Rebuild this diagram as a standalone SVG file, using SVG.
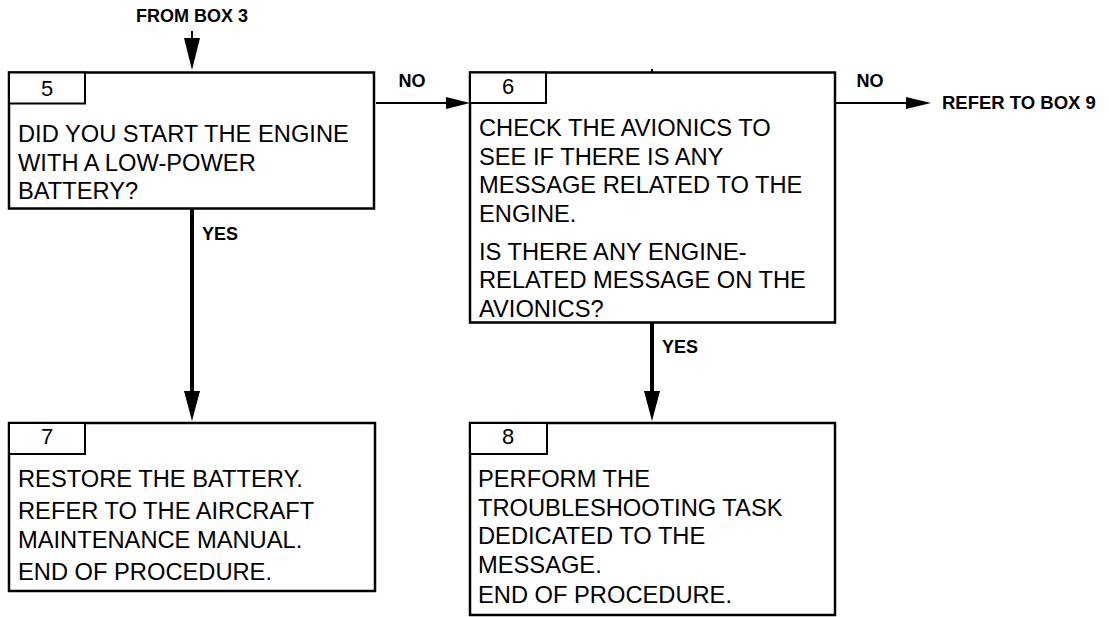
<svg xmlns="http://www.w3.org/2000/svg" width="1109" height="617" viewBox="0 0 1109 617">
<style>
.box{fill:#fff;stroke:#000;stroke-width:2.5}
.tab{fill:#fff;stroke:#000;stroke-width:2}
.t{font-family:"Liberation Sans",Arial,sans-serif;font-size:23.7px;fill:#000}
.n{font-family:"Liberation Sans",Arial,sans-serif;font-size:22px;fill:#000;text-anchor:middle}
.b{font-family:"Liberation Sans",Arial,sans-serif;font-size:18px;font-weight:bold;fill:#000}
.thin{stroke:#000;stroke-width:2;fill:none}
.thick{stroke:#000;stroke-width:4;fill:none}
.ah{fill:#000}
</style>
<rect width="1109" height="617" fill="#fff"/>
<g id="connectors">
<text class="b" x="192" y="22" text-anchor="middle">FROM BOX 3</text>
<line class="thin" x1="192" y1="31" x2="192" y2="60"/>
<polygon class="ah" points="184,38 200,38 192,70"/>
<line class="thin" x1="376" y1="103" x2="450" y2="103"/>
<polygon class="ah" points="446,97 446,109 470,103"/>
<text class="b" x="412" y="87" text-anchor="middle">NO</text>
<line class="thin" x1="835" y1="103" x2="910" y2="103"/>
<polygon class="ah" points="906,97 906,109 931,103"/>
<text class="b" x="870" y="87" text-anchor="middle">NO</text>
<text class="b" x="942" y="109" style="font-size:18.5px">REFER TO BOX 9</text>
<line class="thick" x1="192" y1="209" x2="192" y2="395"/>
<polygon class="ah" points="184,391 200,391 192,421"/>
<text class="b" x="202" y="240">YES</text>
<line class="thick" x1="652" y1="323" x2="652" y2="395"/>
<polygon class="ah" points="644,391 660,391 652,421"/>
<text class="b" x="662" y="353">YES</text>
<line class="thin" x1="652" y1="69" x2="652" y2="73"/>
</g>
<g id="box5">
<rect class="box" x="9" y="72.5" width="365" height="136"/>
<rect class="tab" x="9" y="72.5" width="76" height="31"/>
<text class="n" x="47" y="95.5">5</text>
<text class="t" x="18" y="142">DID YOU START THE ENGINE</text>
<text class="t" x="18" y="170.5">WITH A LOW-POWER</text>
<text class="t" x="18" y="199">BATTERY?</text>
</g>
<g id="box6">
<rect class="box" x="470" y="72.5" width="365" height="250"/>
<rect class="tab" x="470" y="72.5" width="76" height="30.5"/>
<text class="n" x="508" y="94">6</text>
<text class="t" x="479" y="136">CHECK THE AVIONICS TO</text>
<text class="t" x="479" y="164.5">SEE IF THERE IS ANY</text>
<text class="t" x="479" y="193">MESSAGE RELATED TO THE</text>
<text class="t" x="479" y="221.5">ENGINE.</text>
<text class="t" x="479" y="259.5">IS THERE ANY ENGINE-</text>
<text class="t" x="479" y="288">RELATED MESSAGE ON THE</text>
<text class="t" x="479" y="316.5">AVIONICS?</text>
</g>
<g id="box7">
<rect class="box" x="9" y="423" width="366" height="168"/>
<rect class="tab" x="9" y="423" width="76" height="31"/>
<text class="n" x="47" y="444">7</text>
<text class="t" x="18" y="487">RESTORE THE BATTERY.</text>
<text class="t" x="18" y="519">REFER TO THE AIRCRAFT</text>
<text class="t" x="18" y="548">MAINTENANCE MANUAL.</text>
<text class="t" x="18" y="580">END OF PROCEDURE.</text>
</g>
<g id="box8">
<rect class="box" x="470" y="423" width="365" height="192"/>
<rect class="tab" x="470" y="423" width="77" height="31"/>
<text class="n" x="508" y="444">8</text>
<text class="t" x="478" y="487">PERFORM THE</text>
<text class="t" x="478" y="515.5">TROUBLESHOOTING TASK</text>
<text class="t" x="478" y="544">DEDICATED TO THE</text>
<text class="t" x="478" y="572.5">MESSAGE.</text>
<text class="t" x="478" y="603">END OF PROCEDURE.</text>
</g>
</svg>
